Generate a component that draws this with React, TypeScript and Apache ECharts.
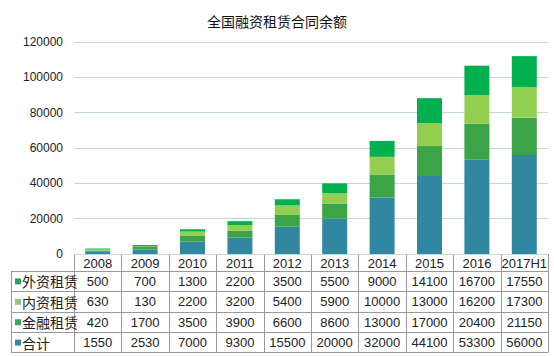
import React, { useEffect, useRef } from "react";
import * as echarts from "echarts";

const years = ["2008", "2009", "2010", "2011", "2012", "2013", "2014", "2015", "2016", "2017H1"];
const foreignLeasing = [500, 700, 1300, 2200, 3500, 5500, 9000, 14100, 16700, 17550];
const domesticLeasing = [630, 130, 2200, 3200, 5400, 5900, 10000, 13000, 16200, 17300];
const financialLeasing = [420, 1700, 3500, 3900, 6600, 8600, 13000, 17000, 20400, 21150];
const totalValues = [1550, 2530, 7000, 9300, 15500, 20000, 32000, 44100, 53300, 56000];

const FONT = "'Liberation Sans', Arial, 'Noto Sans CJK SC', sans-serif";
const CJK = "'Noto Sans CJK SC', 'Liberation Sans', sans-serif";

export default function App() {
  const ref = useRef<HTMLDivElement>(null);
  useEffect(() => {
    if (!ref.current) return;
    const chart = echarts.init(ref.current, undefined, { renderer: "svg" });
    const W = 554;
    const H = 356;
    const gridLeft = 74;
    const gridRight = 6;
    const gridTop = 42;
    const gridBottom = 102;
    const x0 = gridLeft;
    const x1 = W - gridRight;
    const colW = (x1 - x0) / years.length;
    const yTop = H - gridBottom; // 254
    const headerH = 16.7;
    const rowH = 20.4;
    const tableLeft = 11;

    const series = [
      { name: "合计", data: totalValues, color: "#31879F", marker: "#3A86A8" },
      { name: "金融租赁", data: financialLeasing, color: "#3AA447", marker: "#3AA85A" },
      { name: "内资租赁", data: domesticLeasing, color: "#92CF50", marker: "#9DC183" },
      { name: "外资租赁", data: foreignLeasing, color: "#00B04F", marker: "#27A05E" },
    ];
    const tableRows = [series[3], series[2], series[1], series[0]];

    const lineStyle = { stroke: "#9a9a9a", lineWidth: 1 };
    const graphics: any[] = [];
    const bottomY = yTop + headerH + rowH * tableRows.length;
    graphics.push({ type: "line", shape: { x1: x0, y1: yTop + 0.5, x2: x1, y2: yTop + 0.5 }, style: lineStyle });
    for (let r = 0; r <= tableRows.length; r++) {
      const y = Math.round(yTop + headerH + rowH * r) + 0.5;
      graphics.push({ type: "line", shape: { x1: tableLeft, y1: y, x2: x1, y2: y }, style: lineStyle });
    }
    graphics.push({
      type: "line",
      shape: { x1: tableLeft + 0.5, y1: Math.round(yTop + headerH) + 0.5, x2: tableLeft + 0.5, y2: Math.round(bottomY) + 0.5 },
      style: lineStyle,
    });
    for (let c = 0; c <= years.length; c++) {
      const x = Math.round(x0 + colW * c) + 0.5;
      graphics.push({ type: "line", shape: { x1: x, y1: yTop, x2: x, y2: Math.round(bottomY) + 0.5 }, style: lineStyle });
    }
    years.forEach((yr, i) => {
      graphics.push({
        type: "text",
        x: x0 + colW * (i + 0.5),
        y: yTop + headerH / 2 + 1,
        style: { text: yr, fontSize: 13, fontFamily: FONT, fill: "#222", align: "center", verticalAlign: "middle" },
      });
    });
    tableRows.forEach((row, r) => {
      const cy = yTop + headerH + rowH * (r + 0.5) + 0.5;
      graphics.push({ type: "rect", shape: { x: 15, y: cy - 3, width: 6, height: 6 }, style: { fill: row.marker } });
      graphics.push({
        type: "text",
        x: 22,
        y: cy,
        style: { text: row.name, fontSize: 14, fontFamily: CJK, fill: "#222", align: "left", verticalAlign: "middle" },
      });
      row.data.forEach((v, i) => {
        graphics.push({
          type: "text",
          x: x0 + colW * (i + 0.5),
          y: cy,
          style: { text: String(v), fontSize: 13, fontFamily: FONT, fill: "#222", align: "center", verticalAlign: "middle" },
        });
      });
    });

    chart.setOption({
      animation: false,
      backgroundColor: "#ffffff",
      title: {
        text: "全国融资租赁合同余额",
        left: "center",
        top: 9,
        textStyle: { fontSize: 14, fontWeight: "normal", color: "#111", fontFamily: CJK },
      },
      grid: { left: gridLeft, right: gridRight, top: gridTop, bottom: gridBottom, containLabel: false },
      xAxis: {
        type: "category",
        data: years,
        axisLine: { show: false },
        axisTick: { show: false },
        axisLabel: { show: false },
      },
      yAxis: {
        type: "value",
        min: 0,
        max: 120000,
        interval: 20000,
        axisLine: { show: false },
        axisTick: { show: false },
        axisLabel: { fontSize: 12, color: "#222", fontFamily: FONT, margin: 11, formatter: (v: number) => String(v) },
        splitLine: { lineStyle: { color: "#BFDAD3", width: 1 } },
      },
      series: series.map((s) => ({
        name: s.name,
        type: "bar",
        stack: "total",
        data: s.data,
        barWidth: 25,
        itemStyle: { color: s.color },
      })),
      graphic: graphics,
    });
    return () => chart.dispose();
  }, []);
  return <div ref={ref} style={{ position: "absolute", left: 0, top: 0, width: 554, height: 356 }} />;
}
